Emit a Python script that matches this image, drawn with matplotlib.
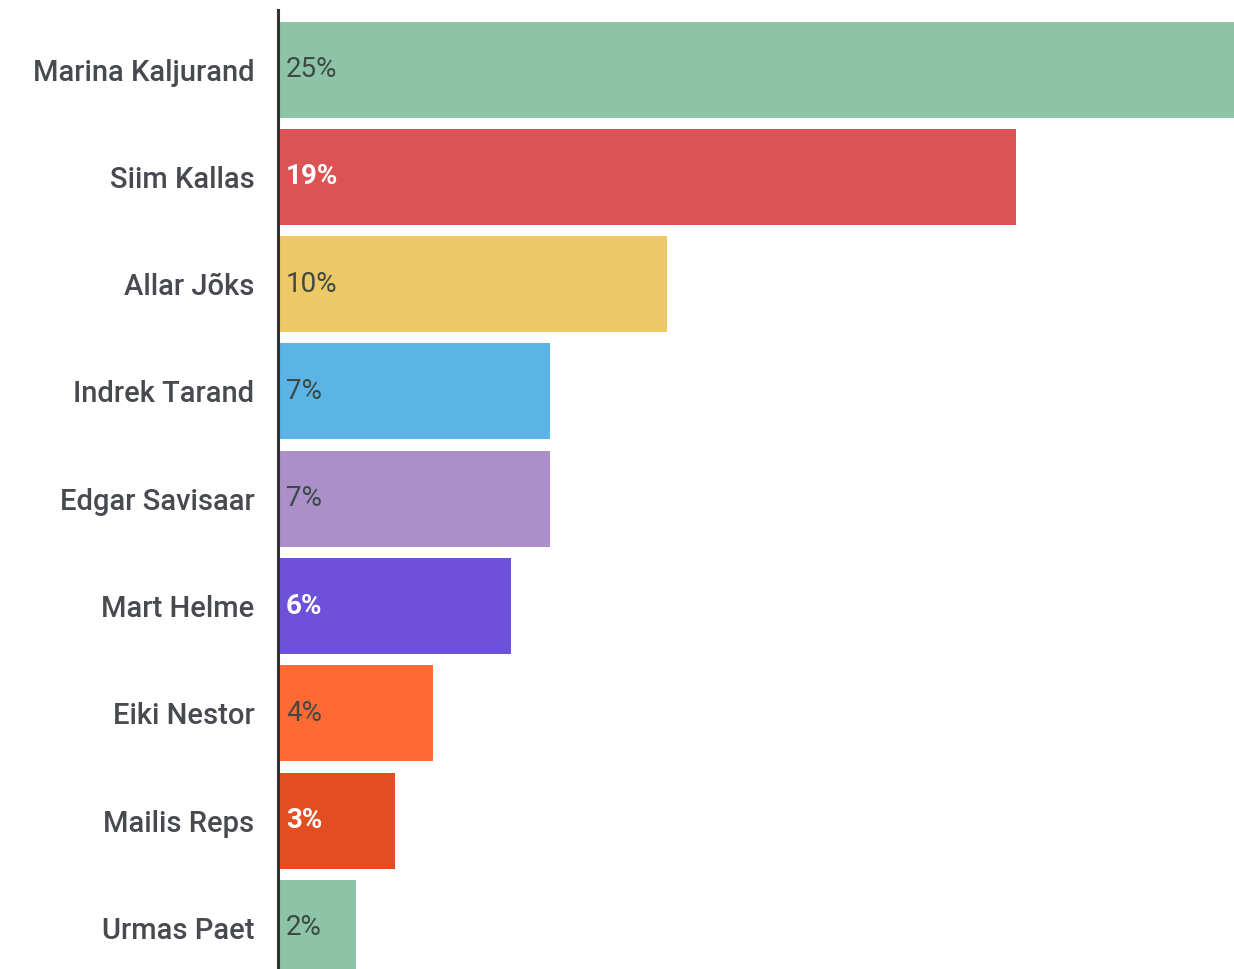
import numpy as np
import matplotlib.pyplot as plt

plt.rcParams['font.family'] = ['Roboto', 'DejaVu Sans']

# Data
names = ['Marina Kaljurand', 'Siim Kallas', 'Allar Jõks', 'Indrek Tarand',
         'Edgar Savisaar', 'Mart Helme', 'Eiki Nestor', 'Mailis Reps', 'Urmas Paet']
values = [25, 19, 10, 7, 7, 6, 4, 3, 2]
colors = ['#8dc3a7', '#dc5356', '#edc867', '#5bb4e5', '#ab8fc9',
          '#6d52d9', '#ff6933', '#e24e22', '#8dc3a7']
white_label = [False, True, False, False, False, True, False, True, False]

fig = plt.figure(figsize=(12.34, 9.69), dpi=100)
ax = fig.add_axes([278/1234, 0, 1 - 278/1234, 959/969])

y = np.arange(len(names))
ax.barh(y, values, height=0.895, color=colors)

for i, v in enumerate(values):
    if white_label[i]:
        ax.text(0.2, i, f'{v}%', color='white', fontsize=20, fontweight='bold',
                va='center', ha='left')
    else:
        ax.text(0.2, i, f'{v}%', color='#3d4a44', fontsize=20,
                va='center', ha='left')

ax.set_xlim(0, 956/38.85)
ax.set_ylim(8.383, -0.555)
ax.set_yticks(y)
ax.set_yticklabels(names, fontsize=21, color='#474a4f', fontweight='medium')
ax.tick_params(axis='y', length=0, pad=17)
ax.set_xticks([])

for s in ['top', 'right', 'bottom']:
    ax.spines[s].set_visible(False)
ax.spines['left'].set_linewidth(2.2)
ax.spines['left'].set_color('#333333')
ax.spines['left'].set_zorder(5)

fig.savefig('out.png', dpi=100)
